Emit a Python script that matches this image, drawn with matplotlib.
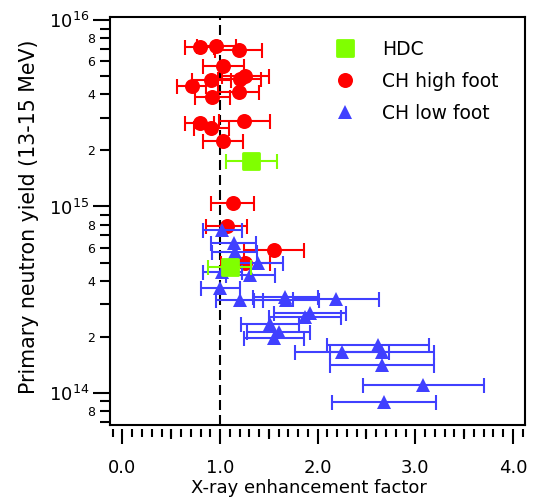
import numpy as np
import matplotlib
matplotlib.use('Agg')
import matplotlib.pyplot as plt
from matplotlib.lines import Line2D
from matplotlib.markers import MarkerStyle
from matplotlib.ticker import LogLocator, FuncFormatter, MultipleLocator, NullFormatter

plt.rcParams['font.family'] = ['DejaVu Sans']

# HDC shots
hdc_x = [1.32, 1.10]
hdc_xerr = [0.26, 0.22]
hdc_y = [1.76e15, 4.72e14]

# CH high foot shots
high_x = [0.79, 0.96, 1.19, 1.03, 1.26, 1.20, 0.91, 0.71, 0.92, 1.19,
          0.79, 1.25, 0.91, 1.03, 1.13, 1.07, 1.55, 1.26]
high_xerr = [0.15, 0.20, 0.24, 0.21, 0.24, 0.22, 0.20, 0.15, 0.18, 0.21,
             0.15, 0.26, 0.18, 0.20, 0.22, 0.21, 0.31, 0.25]
high_y = [7.2e15, 7.3e15, 6.9e15, 5.7e15, 5.0e15, 4.8e15, 4.77e15, 4.43e15, 3.88e15, 4.1e15,
          2.81e15, 2.88e15, 2.63e15, 2.25e15, 1.04e15, 7.86e14, 5.85e14, 5.0e14]

# CH low foot shots
low_x = [1.02, 1.14, 1.15, 1.39, 1.31, 1.02, 1.00, 1.20, 1.67, 1.68, 2.19,
         1.92, 1.87, 1.51, 1.60, 1.55, 2.62, 2.66, 2.25, 2.66, 3.08, 2.68]
low_xerr = [0.20, 0.23, 0.23, 0.25, 0.25, 0.20, 0.20, 0.24, 0.33, 0.33, 0.44,
            0.37, 0.37, 0.30, 0.32, 0.31, 0.52, 0.53, 0.48, 0.53, 0.62, 0.53]
low_y = [7.48e14, 6.35e14, 5.72e14, 4.96e14, 4.29e14, 4.45e14, 3.64e14, 3.15e14, 3.28e14, 3.15e14, 3.19e14,
         2.67e14, 2.57e14, 2.34e14, 2.13e14, 1.96e14, 1.81e14, 1.66e14, 1.65e14, 1.41e14, 1.10e14, 8.98e13]

red = '#ff0000'
blue = '#4040ff'
green = '#80ff00'

fig = plt.figure(figsize=(5.36, 5.04), dpi=100)
ax = fig.add_axes([0.2052, 0.1567, 0.7743, 0.8095])

ax.set_yscale('log')
ax.set_xlim(-0.128, 4.124)
ax.set_ylim(10**13.828, 10**16.016)

ax.axvline(1.0, color='black', lw=1.5, dashes=(4.8, 2.4), zorder=1)

sq = MarkerStyle('s', joinstyle='round')
series = [
    (high_x, high_y, high_xerr, red, dict(marker='o', ms=10.8, mew=0)),
    (low_x, low_y, low_xerr, blue, dict(marker='^', ms=10.5, mew=0)),
    (hdc_x, hdc_y, hdc_xerr, green, dict(marker=sq, ms=11.0, mew=2.0, mec=green)),
]
z = 2
for xs, ys, xe, c, mk in series:
    ax.errorbar(xs, ys, xerr=xe, fmt='none', ecolor=c, elinewidth=1.5,
                capsize=5.4, capthick=1.5, zorder=z)
    ax.plot(xs, ys, ls='none', color=c, zorder=z + 0.5, **mk)
    z += 1

# frame
for s in ['top', 'left', 'right']:
    ax.spines[s].set_linewidth(1.5)
ax.spines['bottom'].set_position(('outward', 3))
ax.spines['bottom'].set_visible(False)
ax.plot([0, 1], [0, 0], transform=ax.transAxes, color='black', lw=1.5,
        clip_on=False, solid_capstyle='projecting')

# x ticks
ax.xaxis.set_major_locator(MultipleLocator(1.0))
ax.xaxis.set_minor_locator(MultipleLocator(0.1))
ax.xaxis.set_major_formatter(FuncFormatter(lambda v, p: f'{v:.1f}'))
ax.tick_params(axis='x', which='major', direction='out', length=10.5, width=1.5,
               pad=11, labelsize=13)
ax.tick_params(axis='x', which='minor', direction='out', length=5.5, width=1.5)

# y ticks
ax.yaxis.set_major_locator(LogLocator(base=10, numticks=10))
ax.yaxis.set_minor_locator(LogLocator(base=10, subs=np.arange(2, 10), numticks=30))
ax.yaxis.set_major_formatter(FuncFormatter(
    lambda v, p: r'$\mathregular{10^{%d}}$' % round(np.log10(v))))

def minor_fmt(v, p):
    m = v / 10 ** np.floor(np.log10(v) + 1e-9)
    k = int(round(m))
    return str(k) if k in (2, 4, 6, 8) else ''

ax.yaxis.set_minor_formatter(FuncFormatter(minor_fmt))
ax.tick_params(axis='y', which='major', direction='out', length=12, width=1.5,
               pad=3, labelsize=13)
ax.tick_params(axis='y', which='minor', direction='out', length=7.5, width=1.5,
               pad=3, labelsize=9)

# medium x ticks at the halves
ax2 = ax.twiny()
ax2.set_xlim(ax.get_xlim())
ax2.xaxis.set_ticks_position('bottom')
ax2.spines['bottom'].set_position(('outward', 3))
for s in ax2.spines.values():
    s.set_visible(False)
ax2.set_xticks([0.5, 1.5, 2.5, 3.5])
ax2.xaxis.set_major_formatter(NullFormatter())
ax2.tick_params(axis='x', which='major', direction='out', length=7.5, width=1.5)

ax.set_xlabel('X-ray enhancement factor', fontsize=13)
ax.xaxis.set_label_coords(0.48, -0.133)
ax.set_ylabel('Primary neutron yield (13-15 MeV)', fontsize=14.8)
ax.yaxis.set_label_coords(-0.172, 0.51)

handles = [
    Line2D([], [], ls='none', marker=sq, ms=11.0, mew=2.0, color=green, mec=green),
    Line2D([], [], ls='none', marker='o', ms=10.8, mew=0, color=red),
    Line2D([], [], ls='none', marker='^', ms=10.5, mew=0, color=blue),
]
ax.legend(handles, ['HDC', 'CH high foot', 'CH low foot'], loc='upper left',
          bbox_to_anchor=(0.5436, 0.944), frameon=False, fontsize=13.5,
          handlelength=1.0, handletextpad=1.5, labelspacing=0.69,
          borderpad=0, borderaxespad=0)

fig.savefig('out.png', dpi=100)
